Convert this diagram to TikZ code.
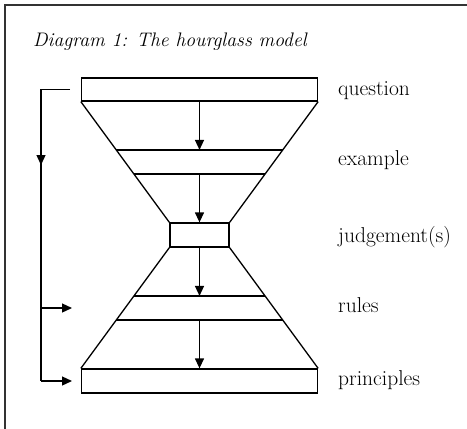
\documentclass[tikz,border=0pt]{standalone}
\usepackage{tikz}
\usetikzlibrary{arrows.meta,positioning,calc}
\tikzset{
  hbox/.style  ={draw, line width=1.3pt, inner sep=0pt, fill=white},
  hline/.style ={line width=1.3pt, black},
  har/.style   ={-{Triangle[length=10pt,width=9pt]}, line width=1.3pt, black},
  hlbl/.style  ={anchor=base west, inner sep=0pt, font=\fontsize{21.5}{24}\selectfont},
  htitle/.style={anchor=base west, inner sep=0pt, font=\fontsize{19.6}{23}\selectfont\itshape},
}

\begin{document}
\begin{tikzpicture}[x=1pt,y=-1pt]
\useasboundingbox (0,0) rectangle (467,429);

% frame
\draw[line width=1.6pt, black!80] (5,429) -- (5,5) -- (467,5);
\node[htitle] (title) at (33,46) {Diagram 1: The hourglass model};

% the three boxes
\node[hbox, minimum width=236pt, minimum height=23pt] (q) at (199.5,89.5) {};
\node[hbox, minimum width=59pt,  minimum height=24pt] (j) at (199.5,235) {};
\node[hbox, minimum width=236pt, minimum height=24pt] (p) at (199.5,381) {};

% glass outline
\draw[hline] (q.south west) -- (j.north west);
\draw[hline] (q.south east) -- (j.north east);
\draw[hline] (j.south west) -- (p.north west);
\draw[hline] (j.south east) -- (p.north east);

% bands
\coordinate (ex1) at ($(q.south)!0.4!(j.north)$);
\coordinate (ex2) at ($(q.south)!0.6!(j.north)$);
\coordinate (ru1) at ($(j.south)!0.4!(p.north)$);
\coordinate (ru2) at ($(j.south)!0.6!(p.north)$);
\draw[hline] ($(q.south west)!0.4!(j.north west)$) -- ($(q.south east)!0.4!(j.north east)$);
\draw[hline] ($(q.south west)!0.6!(j.north west)$) -- ($(q.south east)!0.6!(j.north east)$);
\draw[hline] ($(j.south west)!0.4!(p.north west)$) -- ($(j.south east)!0.4!(p.north east)$);
\draw[hline] ($(j.south west)!0.6!(p.north west)$) -- ($(j.south east)!0.6!(p.north east)$);

% downward flow
\draw[har] (q.south) -- (ex1);
\draw[har] (ex2) -- (j.north);
\draw[har] (j.south) -- (ru1);
\draw[har] (ru2) -- (p.north);

% feedback loop on the left
\coordinate (fbtop) at (70,89.5);
\coordinate (fbcor) at (41,89.5);
\coordinate (fbmid) at (41,165);
\coordinate (fbrul) at (41,308);
\coordinate (fbbot) at (41,381);
\coordinate (rin)   at (72,308);
\coordinate (pin)   at (72,381);
\draw[hline] (fbtop) -- (fbcor) -- (fbbot);
\draw[har] (fbcor) -- (fbmid);
\draw[har] (fbrul) -- (rin);
\draw[har] (fbbot) -- (pin);

% labels
\node[hlbl] (lq) at (338,95)  {question};
\node[hlbl] (le) at (338,165) {example};
\node[hlbl] (lj) at (338,242) {judgement(s)};
\node[hlbl] (lr) at (338,312) {rules};
\node[hlbl] (lp) at (338,385) {principles};

\end{tikzpicture}
\end{document}
